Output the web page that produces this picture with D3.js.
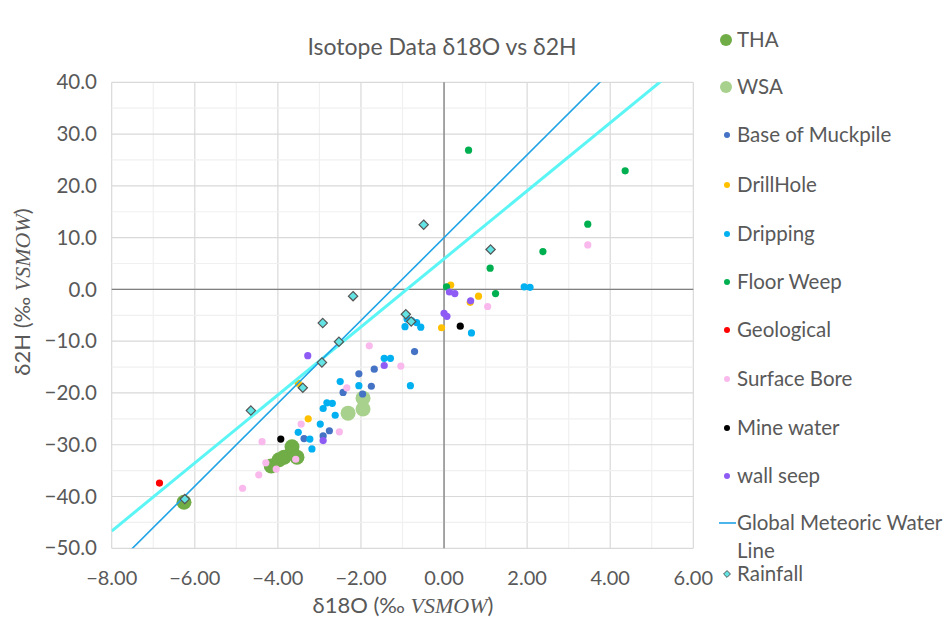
<!DOCTYPE html>
<html><head><meta charset="utf-8">
<script src="https://cdn.jsdelivr.net/npm/d3@7"></script>
<style>body{margin:0;background:#fff}svg{display:block}</style>
</head><body>
<svg id="c" width="949" height="617"></svg>
<script>
// ---- data ----
const seriesNames = ["THA","WSA","Base of Muckpile","DrillHole","Dripping","Floor Weep","Geological","Surface Bore","Mine water","wall seep"];
const seriesColors = ["#70AD47","#A9D18E","#4472C4","#FFC000","#00B0F0","#00B050","#FF0000","#F9B9EC","#000000","#8E5CF5"];
const thaX = [-6.26,-4.16,-3.97,-3.85,-3.66,-3.54];
const thaY = [-41.1,-34.1,-32.9,-32.4,-30.4,-32.4];
const wsaX = [-2.31,-1.95,-1.95];
const wsaY = [-23.9,-21.0,-23.1];
const baseX = [-0.71,-1.68,-2.05,-1.75,-2.43,-1.96,-2.76,-2.91,-3.37];
const baseY = [-12.0,-15.4,-16.3,-18.7,-19.9,-20.2,-27.3,-28.3,-28.8];
const drillX = [-3.51,-3.27,0.16,0.83,0.63,-0.06];
const drillY = [-18.1,-25.0,0.85,-1.3,-2.5,-7.4];
const dripX = [-0.94,-0.78,-0.66,-0.56,-0.89,0.66,-1.44,-1.29,-0.81,-2.50,-2.05,-2.82,-2.69,-2.91,-2.62,-2.98,-3.51,-3.23,-3.18,1.93,2.07];
const dripY = [-7.2,-6.0,-6.4,-7.3,-5.7,-8.4,-13.3,-13.3,-18.6,-17.8,-18.6,-21.9,-22.0,-23.0,-24.3,-26.0,-27.6,-28.9,-30.8,0.5,0.4];
const floorX = [0.59,4.36,3.46,2.38,1.11,1.24,0.06];
const floorY = [26.9,22.9,12.6,7.3,4.1,-0.8,0.5];
const geoX = [-6.85];
const geoY = [-37.4];
const boreX = [3.46,1.05,-1.80,-1.04,-2.34,-2.52,-3.44,-4.38,-4.29,-4.04,-3.57,-4.46,-4.85];
const boreY = [8.6,-3.3,-10.9,-14.8,-19.0,-27.5,-26.0,-29.4,-33.5,-34.7,-32.8,-35.8,-38.4];
const mineX = [-3.93,0.39];
const mineY = [-28.9,-7.1];
const wallX = [-3.28,-1.44,-2.91,0.0,0.07,0.13,0.26,0.64];
const wallY = [-12.8,-14.7,-29.2,-4.6,-5.2,-0.5,-0.8,-2.2];
const rainX = [-6.24,-4.65,-3.40,-2.94,-2.53,-2.92,-2.19,-0.49,1.12,-0.92,-0.79];
const rainY = [-40.5,-23.4,-19.0,-14.1,-10.1,-6.5,-1.3,12.5,7.7,-4.8,-6.2];
// Global Meteoric Water Line: d2H = 8*d18O + 10
const gmwlSlope = 8, gmwlIntercept = 10;
// local line (rainfall trend)
const lmwlSlope = 6.57, lmwlIntercept = 5.9;
const xTicks = [-8,-6,-4,-2,0,2,4,6];
const yTicks = [-50,-40,-30,-20,-10,0,10,20,30,40];

const seriesX = [thaX,wsaX,baseX,drillX,dripX,floorX,geoX,boreX,mineX,wallX];
const seriesY = [thaY,wsaY,baseY,drillY,dripY,floorY,geoY,boreY,mineY,wallY];

// ---- layout ----
const svg = d3.select("#c");
const x = d3.scaleLinear().domain([-8,6]).range([111.7,693.3]);
const y = d3.scaleLinear().domain([-50,40]).range([548.3,82.3]);
const textCol = "#595959";
const font = "Lato, 'Open Sans', sans-serif";

// gridlines
const g = svg.append("g");
g.selectAll(".mx").data(d3.range(-8,6.01,1)).join("line")
  .attr("x1",d=>x(d)).attr("x2",d=>x(d)).attr("y1",y(-50)).attr("y2",y(40))
  .attr("stroke",d=>d%2===0?"#d9d9d9":"#f0f0f0").attr("stroke-width",1.2);
g.selectAll(".my").data(d3.range(-50,40.01,5)).join("line")
  .attr("y1",d=>y(d)).attr("y2",d=>y(d)).attr("x1",x(-8)).attr("x2",x(6))
  .attr("stroke",d=>d%10===0?"#d9d9d9":"#f0f0f0").attr("stroke-width",1.2);

// zero axes
g.append("line").attr("x1",x(0)).attr("x2",x(0)).attr("y1",y(-50)).attr("y2",y(40)).attr("stroke","#808080").attr("stroke-width",1.3);
g.append("line").attr("x1",x(-8)).attr("x2",x(6)).attr("y1",y(0)).attr("y2",y(0)).attr("stroke","#808080").attr("stroke-width",1.3);

// tick labels
svg.append("g").selectAll("text").data(yTicks).join("text")
  .attr("x",97).attr("y",d=>y(d)).attr("dy","0.35em").attr("text-anchor","end")
  .attr("fill",textCol).style("font-family",font).style("font-size","20.5px")
  .text(d=>d3.format(".1f")(d));
svg.append("g").selectAll("text").data(xTicks).join("text")
  .attr("x",d=>x(d)).attr("y",578).attr("dy","0.35em").attr("text-anchor","middle")
  .attr("fill",textCol).style("font-family",font).style("font-size","20px")
  .text(d=>d3.format(".2f")(d));

// titles
svg.append("text").attr("x",442).attr("y",47).attr("dy","0.35em").attr("text-anchor","middle")
  .attr("fill",textCol).style("font-family",font).style("font-size","23px").text("Isotope Data δ18O vs δ2H");
const xt = svg.append("text").attr("x",403).attr("y",605).attr("dy","0.35em").attr("text-anchor","middle")
  .attr("fill",textCol).style("font-family",font).style("font-size","22px");
xt.append("tspan").text("δ18O (‰ ");
xt.append("tspan").style("font-family","'Liberation Serif', serif").style("font-style","italic").text("VSMOW");
xt.append("tspan").text(")");
const yt = svg.append("text").attr("transform","translate(22,292) rotate(-90)").attr("dy","0.35em").attr("text-anchor","middle")
  .attr("fill",textCol).style("font-family",font).style("font-size","22px");
yt.append("tspan").text("δ2H (‰ ");
yt.append("tspan").style("font-family","'Liberation Serif', serif").style("font-style","italic").text("VSMOW");
yt.append("tspan").text(")");

// points
const pts = svg.append("g");
seriesNames.forEach((name,i)=>{
  const data = seriesX[i].map((v,j)=>[v,seriesY[i][j]]);
  const r = i<2 ? 7.5 : 3.6;
  pts.append("g").selectAll("circle").data(data).join("circle")
    .attr("cx",d=>x(d[0])).attr("cy",d=>y(d[1])).attr("r",r).attr("fill",seriesColors[i]);
});

// lines
const line = d3.line().x(d=>x(d[0])).y(d=>y(d[1]));
svg.append("clipPath").attr("id","pc").append("rect")
  .attr("x",x(-8)).attr("y",y(40)).attr("width",x(6)-x(-8)).attr("height",y(-50)-y(40));
const gmwlData = [-8,6].map(v=>[v,gmwlSlope*v+gmwlIntercept]);
const lmwlData = [-8,6].map(v=>[v,lmwlSlope*v+lmwlIntercept]);
svg.append("path").datum(lmwlData).attr("d",line).attr("clip-path","url(#pc)")
  .attr("fill","none").attr("stroke","#5CF5F5").attr("stroke-width",3);
svg.append("path").datum(gmwlData).attr("d",line).attr("clip-path","url(#pc)")
  .attr("fill","none").attr("stroke","#1FA3E6").attr("stroke-width",1.6);

// rainfall diamonds
const diamond = d3.symbol().type(d3.symbolDiamond2).size(55);
svg.append("g").selectAll("path").data(rainX.map((v,j)=>[v,rainY[j]])).join("path")
  .attr("d",diamond).attr("transform",d=>`translate(${x(d[0])},${y(d[1])})`)
  .attr("fill","#63E3E3").attr("stroke","#555").attr("stroke-width",1.2);

// legend
const legY = [40,87,135,185,234,282,330,379,428,476];
const legFont = "20.5px";
const leg = svg.append("g");
seriesNames.forEach((name,i)=>{
  leg.append("circle").attr("cx",i<2?726:727).attr("cy",legY[i]).attr("r",i<2?6:3)
    .attr("fill",seriesColors[i]);
  leg.append("text").attr("x",737).attr("y",legY[i]).attr("dy","0.35em")
    .attr("fill",textCol).style("font-family",font).style("font-size",legFont).text(name);
});
leg.append("line").attr("x1",719).attr("x2",736).attr("y1",523).attr("y2",523).attr("stroke","#1FA3E6").attr("stroke-width",1.6);
leg.append("text").attr("x",737).attr("y",523).attr("dy","0.35em").attr("fill",textCol)
  .style("font-family",font).style("font-size",legFont).text("Global Meteoric Water");
leg.append("text").attr("x",737).attr("y",551).attr("dy","0.35em").attr("fill",textCol)
  .style("font-family",font).style("font-size",legFont).text("Line");
leg.append("path").attr("d",d3.symbol().type(d3.symbolDiamond2).size(30))
  .attr("transform","translate(727,574)").attr("fill","#63E3E3").attr("stroke","#555").attr("stroke-width",1);
leg.append("text").attr("x",737).attr("y",574).attr("dy","0.35em").attr("fill",textCol)
  .style("font-family",font).style("font-size",legFont).text("Rainfall");
</script>
</body></html>
